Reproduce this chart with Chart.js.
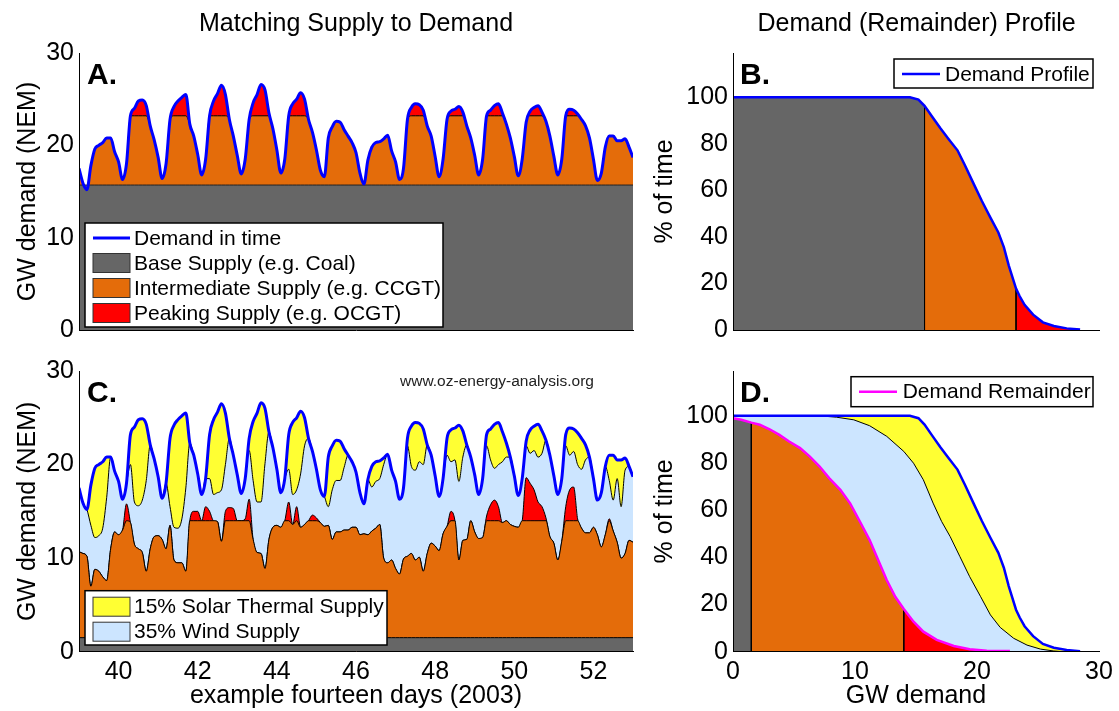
<!DOCTYPE html>
<html>
<head>
<meta charset="utf-8">
<title>Matching Supply to Demand</title>
<script src="https://cdn.jsdelivr.net/npm/chart.js@4.4.1/dist/chart.umd.min.js"></script>
<style>
  html, body { margin: 0; padding: 0; background: #fff; }
  #wrap { position: relative; width: 1119px; height: 711px; overflow: hidden; }
  canvas { position: absolute; }
</style>
</head>
<body>
<div id="wrap">
  <canvas id="chartA" width="640" height="350" style="left:0;top:0"></canvas>
  <canvas id="chartB" width="479" height="350" style="left:640px;top:0"></canvas>
  <canvas id="chartC" width="640" height="366" style="left:0;top:345px"></canvas>
  <canvas id="chartD" width="479" height="366" style="left:640px;top:345px"></canvas>
</div>
<script>
// --- time series, one value every 0.1 day ---
const days = [
  39.0, 39.1, 39.2, 39.3, 39.4, 39.5, 39.6, 39.7, 39.8, 39.9,
  40.0, 40.1, 40.2, 40.3, 40.4, 40.5, 40.6, 40.7, 40.8, 40.9,
  41.0, 41.1, 41.2, 41.3, 41.4, 41.5, 41.6, 41.7, 41.8, 41.9,
  42.0, 42.1, 42.2, 42.3, 42.4, 42.5, 42.6, 42.7, 42.8, 42.9,
  43.0, 43.1, 43.2, 43.3, 43.4, 43.5, 43.6, 43.7, 43.8, 43.9,
  44.0, 44.1, 44.2, 44.3, 44.4, 44.5, 44.6, 44.7, 44.8, 44.9,
  45.0, 45.1, 45.2, 45.3, 45.4, 45.5, 45.6, 45.7, 45.8, 45.9,
  46.0, 46.1, 46.2, 46.3, 46.4, 46.5, 46.6, 46.7, 46.8, 46.9,
  47.0, 47.1, 47.2, 47.3, 47.4, 47.5, 47.6, 47.7, 47.8, 47.9,
  48.0, 48.1, 48.2, 48.3, 48.4, 48.5, 48.6, 48.7, 48.8, 48.9,
  49.0, 49.1, 49.2, 49.3, 49.4, 49.5, 49.6, 49.7, 49.8, 49.9,
  50.0, 50.1, 50.2, 50.3, 50.4, 50.5, 50.6, 50.7, 50.8, 50.9,
  51.0, 51.1, 51.2, 51.3, 51.4, 51.5, 51.6, 51.7, 51.8, 51.9,
  52.0, 52.1, 52.2, 52.3, 52.4, 52.5, 52.6, 52.7, 52.8, 52.9,
  53.0
];

// total demand (GW)
const demand = [
  17.5, 15.9, 15.2, 17.8, 19.6, 20.0, 20.3, 20.8, 20.8, 19.3,
  18.2, 16.3, 18.0, 23.2, 24.0, 24.8, 24.9, 24.3, 22.1, 20.6,
  18.7, 16.4, 18.0, 22.8, 24.2, 24.8, 25.2, 25.5, 22.3, 21.0,
  19.0, 16.8, 18.5, 23.2, 24.8, 25.6, 26.5, 25.5, 22.8, 21.0,
  18.9, 16.9, 18.5, 22.8, 24.6, 25.5, 26.6, 26.0, 23.5, 21.8,
  19.5, 17.0, 18.5, 23.2, 24.5, 25.0, 25.7, 25.0, 22.8, 21.4,
  19.5, 17.3, 16.6, 20.8, 22.0, 22.6, 22.5, 21.7, 21.0, 20.3,
  19.2, 17.0, 15.8, 18.4, 19.8, 20.3, 20.4, 20.7, 21.1, 19.4,
  18.2, 16.3, 17.5, 22.8, 24.1, 24.5, 24.4, 23.8, 22.1, 21.0,
  18.8, 16.6, 18.5, 22.8, 23.7, 23.9, 24.2, 23.6, 22.1, 20.8,
  18.9, 16.8, 18.5, 23.2, 23.8, 24.3, 24.5, 23.5, 22.3, 20.8,
  18.8, 16.7, 18.5, 22.5, 23.7, 24.1, 24.3, 23.6, 22.6, 21.0,
  18.8, 16.8, 18.5, 23.2, 23.9, 23.8, 23.4, 22.8, 22.1, 20.8,
  18.5, 16.2, 17.0, 19.8, 21.0, 21.0, 20.5, 20.5, 20.7, 19.8,
  18.7
];

// demand left after solar thermal (bottom of the yellow band)
const afterSolar = [
  17.5, 15.9, 15.2, 13.5, 12.2, 12.4, 13.2, 16.5, 20.8, 19.3,
  18.2, 16.3, 18.0, 20.0, 16.0, 15.6, 16.2, 18.3, 22.1, 20.6,
  18.7, 16.4, 18.0, 15.5, 13.3, 13.2, 14.2, 17.5, 22.3, 21.0,
  19.0, 16.8, 18.5, 18.5, 16.8, 17.0, 17.3, 20.0, 22.8, 21.0,
  18.9, 16.9, 18.5, 21.5, 18.3, 16.0, 16.0, 20.1, 23.5, 21.8,
  19.5, 17.0, 18.5, 19.5, 16.8, 17.3, 19.0, 22.0, 22.8, 21.4,
  19.5, 17.3, 16.6, 15.5, 17.3, 18.3, 18.3, 19.7, 21.0, 20.3,
  19.2, 17.0, 15.8, 18.4, 17.6, 18.2, 18.5, 20.0, 21.1, 19.4,
  18.2, 16.3, 17.5, 22.0, 19.8, 19.4, 20.3, 20.0, 22.1, 21.0,
  18.8, 16.6, 18.5, 21.0, 20.3, 20.5, 18.2, 20.8, 22.1, 20.8,
  18.9, 16.8, 18.5, 22.0, 20.5, 19.6, 20.0, 20.3, 20.8, 20.8,
  18.8, 16.7, 18.5, 22.0, 21.2, 21.5, 20.8, 21.2, 22.6, 21.0,
  18.8, 16.8, 18.5, 22.0, 21.0, 21.4, 20.0, 19.5, 20.5, 20.8,
  18.5, 16.2, 17.0, 19.8, 18.3, 16.2, 18.5, 15.5, 19.4, 19.8,
  18.7
];

// demand remainder after solar and wind (top of orange/red)
const remainder = [
  10.7, 10.5, 10.2, 7.0, 8.8, 8.6, 8.0, 7.6, 11.0, 12.8,
  12.5, 13.0, 15.8, 13.8, 11.5, 11.0, 10.6, 8.6, 11.0, 12.3,
  12.4, 12.0, 11.0, 13.5, 9.8, 9.5, 9.5, 8.6, 14.0, 15.0,
  15.0, 14.0, 15.5, 15.0, 14.0, 13.9, 11.8, 15.0, 15.4, 15.3,
  14.0, 14.0, 14.2, 16.3, 12.0, 10.6, 10.5, 8.9, 12.0, 13.3,
  13.5, 13.3, 14.0, 16.0, 13.6, 15.5, 13.3, 13.6, 14.0, 14.6,
  14.3, 13.8, 13.4, 13.5, 12.0, 12.8, 12.8, 13.0, 13.0, 13.3,
  13.3, 12.5, 12.6, 12.5, 12.9, 13.2, 13.6, 10.0, 9.5, 9.8,
  8.9, 8.3, 9.9, 10.2, 10.5, 9.8, 10.1, 8.6, 10.5, 11.6,
  11.3, 10.8, 12.6, 13.4, 15.0, 14.0, 9.8, 11.9, 12.0, 14.0,
  12.8, 12.1, 12.2, 14.5, 15.7, 16.2, 15.5, 13.8, 14.0, 13.6,
  13.4, 13.3, 14.0, 18.6, 18.0, 17.3, 16.0, 15.5, 14.3, 12.3,
  11.6, 9.8, 11.8, 15.5, 17.3, 17.6, 14.2, 13.2, 12.7, 12.7,
  13.3, 12.5, 11.2, 12.5, 14.2, 12.9, 11.7, 10.0, 10.5, 11.9,
  11.7
];

// supply thresholds (GW)
const baseA = 15.7, peakA = 23.2;   // top panels
const baseC = 1.5, peakC = 14.0;    // with solar + wind

// duration curves: GW demand vs % of time
const profGW  = [0, 14.5, 15.2, 15.7, 16.3, 17.0, 17.65, 18.4, 19.0, 19.7, 20.4, 21.1, 21.75, 22.2, 22.6, 23.2, 23.5, 23.9, 24.6, 25.4, 26.3, 27.35, 28.45];
const profPct = [100, 100, 99, 96.3, 91.8, 86.7, 82.2, 77.2, 70.9, 63.1, 55.4, 48.3, 41.9, 35.6, 27.8, 17.8, 14.5, 10.8, 6.6, 3.3, 1.7, 0.7, 0.2];

const solGW  = [0, 7.1, 8.5, 9.9, 11.2, 12.6, 14.0, 14.8, 15.6, 16.4, 17.1, 17.8, 18.6, 19.4, 20.3, 21.1, 21.9, 23.0, 24.1, 25.2, 26.3, 27.1];
const solPct = [100, 100, 99.4, 98.3, 95.8, 91.3, 84.9, 79.9, 72.9, 63, 55.2, 48.8, 40.3, 31.8, 23.3, 15.6, 10.3, 5.7, 2.8, 1.1, 0.3, 0];

const remGW  = [0, 0.68, 1.5, 2.2, 3.0, 3.8, 4.6, 5.5, 6.3, 7.1, 7.9, 8.8, 9.6, 10.4, 11.2, 11.9, 12.6, 13.3, 14.0, 14.8, 15.6, 16.7, 18.1, 19.4, 20.8, 22.7];
const remPct = [99, 98.3, 97.1, 96.2, 94.3, 91.9, 89.1, 86.3, 82.7, 78.5, 73.5, 68.6, 62.9, 55.2, 47.3, 38.9, 30.4, 23.3, 18.1, 12.7, 8.5, 5.0, 2.4, 1.0, 0.4, 0.3];

// tick labels
const dayTicks = [40, 42, 44, 46, 48, 50, 52];
const gwTicks = [0, 10, 20, 30];
const pctTicks = [0, 20, 40, 60, 80, 100];

// colours
const GREY = '#666666', ORANGE = '#e46c0a', RED = '#ff0000', YELLOW = '#ffff33';
const SKY = '#cce5ff', BLUE = '#0000ff', MAGENTA = '#ff00ff';

const fam = '"Liberation Sans", Arial, Helvetica, sans-serif';
Chart.defaults.font.family = fam;
Chart.defaults.color = '#000';

const pts = (xs, ys) => xs.map((x, i) => ({ x: x, y: ys[i] }));
// piece of a duration curve up to a threshold, closed with a vertical drop
const upTo = (xs, ys, lim) => {
    const out = [];
    xs.forEach((x, i) => { if (x <= lim) out.push({ x: x, y: ys[i] }); });
    out.push({ x: lim, y: 0 });
    return out;
};

function yScale(max, ticks, title, width, titlePad) {
    return {
        type: 'linear', position: 'left', min: 0, max: max,
        afterBuildTicks: s => { s.ticks = ticks.map(v => ({ value: v })); },
        afterFit: s => { s.width = width; },
        ticks: { font: { size: 25 }, padding: 5, color: '#000' },
        grid: { display: false, drawTicks: false },
        border: { display: true, color: '#000', width: 1, z: 1 },
        title: { display: true, text: title, color: '#000', font: { size: 25, lineHeight: 1.2 }, padding: { top: titlePad, bottom: 0 } }
    };
}

function xScale(min, max, ticks, title, height) {
    const sc = {
        type: 'linear', position: 'bottom', min: min, max: max,
        afterFit: s => { s.height = height; },
        ticks: { display: !!ticks, font: { size: 25 }, padding: 5, color: '#000', maxRotation: 0, autoSkip: false },
        grid: { display: false, drawTicks: false },
        border: { display: true, color: '#000', width: 1, z: 1 },
        title: { display: !!title, text: title || '', color: '#000', font: { size: 25, lineHeight: 1.2 }, padding: { top: 0, bottom: 0 } }
    };
    if (ticks) sc.afterBuildTicks = s => { s.ticks = ticks.map(v => ({ value: v })); };
    return sc;
}

// titles, panel letters, boxed legends and the web address
function decor(cfg) {
    return {
        id: 'decor',
        afterDraw(chart) {
            const ctx = chart.ctx;
            ctx.save();
            ctx.fillStyle = '#000';
            if (cfg.title) {
                ctx.font = '25px ' + fam;
                ctx.textAlign = 'center';
                ctx.textBaseline = 'alphabetic';
                ctx.fillText(cfg.title.text, cfg.title.x, cfg.title.y);
            }
            if (cfg.letter) {
                ctx.font = 'bold 30px ' + fam;
                ctx.textAlign = 'left';
                ctx.textBaseline = 'alphabetic';
                ctx.fillText(cfg.letter.text, cfg.letter.x, cfg.letter.y);
            }
            if (cfg.note) {
                ctx.font = '15.5px ' + fam;
                ctx.fillStyle = '#222';
                ctx.textAlign = 'center';
                ctx.textBaseline = 'alphabetic';
                ctx.fillText(cfg.note.text, cfg.note.x, cfg.note.y);
            }
            const L = cfg.legend;
            if (L) {
                ctx.fillStyle = '#fff';
                ctx.fillRect(L.x, L.y, L.w, L.h);
                ctx.strokeStyle = '#000';
                ctx.lineWidth = 1.5;
                ctx.strokeRect(L.x, L.y, L.w, L.h);
                L.items.forEach((it, i) => {
                    const cy = L.y + L.first + i * L.rowH;
                    if (it.kind === 'line') {
                        ctx.strokeStyle = it.color;
                        ctx.lineWidth = it.width;
                        ctx.beginPath();
                        ctx.moveTo(L.x + L.sx0, cy);
                        ctx.lineTo(L.x + L.sx1, cy);
                        ctx.stroke();
                    } else {
                        ctx.fillStyle = it.color;
                        ctx.fillRect(L.x + L.sx0, cy - 9.5, L.sx1 - L.sx0, 19);
                        ctx.strokeStyle = '#333';
                        ctx.lineWidth = 1;
                        ctx.strokeRect(L.x + L.sx0, cy - 9.5, L.sx1 - L.sx0, 19);
                    }
                    ctx.fillStyle = '#000';
                    ctx.font = '21px ' + fam;
                    ctx.textAlign = 'left';
                    ctx.textBaseline = 'middle';
                    ctx.fillText(it.label, L.x + L.tx, cy + 1);
                });
            }
            ctx.restore();
        }
    };
}

const series = { pointRadius: 0, cubicInterpolationMode: 'monotone' };
const curve = { pointRadius: 0, tension: 0 };

function makeChart(id, datasets, scales, padding, deco) {
    return new Chart(document.getElementById(id), {
        type: 'line',
        data: { datasets: datasets },
        options: {
            responsive: false,
            animation: false,
            devicePixelRatio: 1,
            layout: { padding: padding },
            plugins: { legend: { display: false }, tooltip: { enabled: false } },
            scales: scales
        },
        plugins: [decor(deco)]
    });
}

// ---- A: matching supply to demand ----
makeChart('chartA', [
    Object.assign({ label: 'Demand in time', data: pts(days, demand), borderColor: BLUE, borderWidth: 3, fill: false, order: 0 }, series),
    Object.assign({ label: 'Base Supply (e.g. Coal)', data: days.map(x => ({ x: x, y: baseA })), backgroundColor: GREY, borderColor: '#222', borderWidth: 1, fill: 'origin', order: 1 }, series),
    Object.assign({ label: 'Intermediate Supply (e.g. CCGT)', data: days.map((x, i) => ({ x: x, y: Math.min(demand[i], peakA) })), backgroundColor: ORANGE, borderColor: '#000', borderWidth: 1, fill: 'origin', order: 2 }, series),
    Object.assign({ label: 'Peaking Supply (e.g. OCGT)', data: pts(days, demand), backgroundColor: RED, borderWidth: 0, fill: 'origin', order: 3 }, series)
], {
    x: xScale(39, 53, null, null, 2),
    y: yScale(30, gwTicks, 'GW demand (NEM)', 79, 13)
}, { left: 0, right: 7, top: 53, bottom: 15 }, {
    title: { text: 'Matching Supply to Demand', x: 356, y: 30.7 },
    letter: { text: 'A.', x: 87, y: 83.5 },
    legend: {
        x: 85, y: 223, w: 358, h: 104, first: 15, rowH: 25, sx0: 8, sx1: 45, tx: 49,
        items: [
            { kind: 'line', color: BLUE, width: 3, label: 'Demand in time' },
            { kind: 'box', color: GREY, label: 'Base Supply (e.g. Coal)' },
            { kind: 'box', color: ORANGE, label: 'Intermediate Supply (e.g. CCGT)' },
            { kind: 'box', color: RED, label: 'Peaking Supply (e.g. OCGT)' }
        ]
    }
});

// ---- B: demand profile ----
makeChart('chartB', [
    Object.assign({ label: 'Demand Profile', data: pts(profGW, profPct), borderColor: BLUE, borderWidth: 2.5, fill: false, order: 0 }, curve),
    Object.assign({ data: upTo(profGW, profPct, baseA), backgroundColor: GREY, borderColor: '#000', borderWidth: 1, fill: 'origin', order: 1 }, curve),
    Object.assign({ data: upTo(profGW, profPct, peakA), backgroundColor: ORANGE, borderColor: '#000', borderWidth: 1, fill: 'origin', order: 2 }, curve),
    Object.assign({ data: pts(profGW, profPct), backgroundColor: RED, borderWidth: 0, fill: 'origin', order: 3 }, curve)
], {
    x: xScale(0, 30, null, null, 2),
    y: yScale(119, pctTicks, '% of time', 93, 10)
}, { left: 0, right: 20, top: 53, bottom: 15 }, {
    title: { text: 'Demand (Remainder) Profile', x: 276.6, y: 30.7 },
    letter: { text: 'B.', x: 100, y: 83.5 },
    legend: {
        x: 254, y: 59, w: 199, h: 29, first: 15, rowH: 25, sx0: 8, sx1: 46, tx: 51,
        items: [{ kind: 'line', color: BLUE, width: 2.5, label: 'Demand Profile' }]
    }
});

// ---- C: with 15% solar thermal and 35% wind ----
makeChart('chartC', [
    Object.assign({ label: 'Demand in time', data: pts(days, demand), borderColor: BLUE, borderWidth: 3, fill: false, order: 0 }, series),
    Object.assign({ data: days.map(x => ({ x: x, y: baseC })), backgroundColor: GREY, borderColor: '#000', borderWidth: 1, fill: 'origin', order: 1 }, series),
    Object.assign({ data: days.map((x, i) => ({ x: x, y: Math.min(remainder[i], peakC) })), backgroundColor: ORANGE, borderColor: '#000', borderWidth: 1, fill: 'origin', order: 2 }, series),
    Object.assign({ data: pts(days, remainder), backgroundColor: RED, borderColor: '#000', borderWidth: 1, fill: 'origin', order: 3 }, series),
    Object.assign({ label: '35% Wind Supply', data: pts(days, afterSolar), backgroundColor: SKY, borderColor: '#000', borderWidth: 1, fill: 'origin', order: 4 }, series),
    Object.assign({ label: '15% Solar Thermal Supply', data: pts(days, demand), backgroundColor: YELLOW, borderWidth: 0, fill: 'origin', order: 5 }, series)
], {
    x: xScale(39, 53, dayTicks, 'example fourteen days (2003)', 59.3),
    y: yScale(30, gwTicks, 'GW demand (NEM)', 79, 13)
}, { left: 0, right: 7, top: 26, bottom: 0 }, {
    letter: { text: 'C.', x: 87, y: 57 },
    note: { text: 'www.oz-energy-analysis.org', x: 497, y: 41 },
    legend: {
        x: 85, y: 245.7, w: 302, h: 54.3, first: 16, rowH: 25, sx0: 8, sx1: 45, tx: 49,
        items: [
            { kind: 'box', color: YELLOW, label: '15% Solar Thermal Supply' },
            { kind: 'box', color: SKY, label: '35% Wind Supply' }
        ]
    }
});

// ---- D: demand remainder profile ----
makeChart('chartD', [
    Object.assign({ label: 'Demand Remainder', data: pts(remGW, remPct), borderColor: MAGENTA, borderWidth: 2.5, fill: false, order: 0 }, curve),
    Object.assign({ data: pts(profGW, profPct), borderColor: BLUE, borderWidth: 2.5, fill: false, order: 1 }, curve),
    Object.assign({ data: upTo(remGW, remPct, baseC), backgroundColor: GREY, borderColor: '#000', borderWidth: 1, fill: 'origin', order: 2 }, curve),
    Object.assign({ data: upTo(remGW, remPct, peakC), backgroundColor: ORANGE, borderColor: '#000', borderWidth: 1, fill: 'origin', order: 3 }, curve),
    Object.assign({ data: pts(remGW, remPct), backgroundColor: RED, borderWidth: 0, fill: 'origin', order: 4 }, curve),
    Object.assign({ data: pts(solGW, solPct), backgroundColor: SKY, borderColor: '#000', borderWidth: 1, fill: 'origin', order: 5 }, curve),
    Object.assign({ data: pts(profGW, profPct), backgroundColor: YELLOW, borderWidth: 0, fill: 'origin', order: 6 }, curve)
], {
    x: xScale(0, 30, gwTicks, 'GW demand', 59.3),
    y: yScale(119, pctTicks, '% of time', 93, 10)
}, { left: 0, right: 20, top: 26, bottom: 0 }, {
    letter: { text: 'D.', x: 100, y: 57 },
    legend: {
        x: 211, y: 31.7, w: 242, h: 30, first: 15, rowH: 25, sx0: 8, sx1: 46, tx: 51.7,
        items: [{ kind: 'line', color: MAGENTA, width: 2.5, label: 'Demand Remainder' }]
    }
});
</script>
</body>
</html>
